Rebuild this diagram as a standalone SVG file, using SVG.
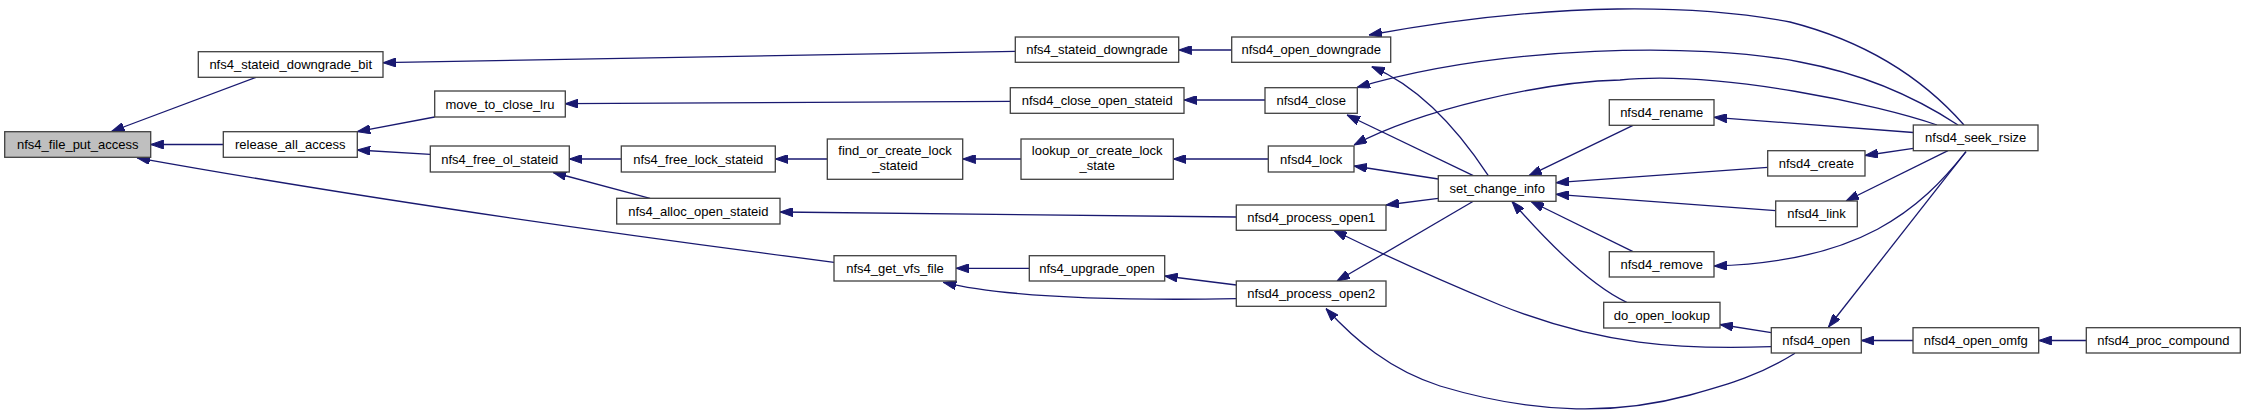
<svg xmlns="http://www.w3.org/2000/svg" width="2245" height="415" viewBox="0 0 2245 415">
<style>
.n rect{fill:#ffffff;stroke:#404040;stroke-width:1.3}
.n.main rect{fill:#bfbfbf}
.n text{font-family:"Liberation Sans",Arial,Helvetica,sans-serif;font-size:13px;fill:#000;text-anchor:middle}
.e path{fill:none;stroke:#191970;stroke-width:1.3;marker-end:url(#ah)}
</style>
<defs>
<marker id="ah" markerUnits="userSpaceOnUse" viewBox="0 0 13 9" refX="13" refY="4.5" markerWidth="13" markerHeight="9" orient="auto">
<path d="M0,0 L13,4.5 L0,9 z" fill="#191970" stroke="#191970" stroke-width="1"/>
</marker>
</defs>
<rect width="2245" height="415" fill="#ffffff"/>
<g id="edges" class="e">
<path d="M256,77.3 L111.5,131.5"/>
<path d="M223.3,144.5 L150.7,144.5"/>
<path d="M834,262.3 C700,245 400,205 137,157.8"/>
<path d="M1015.3,51.3 L383,62.7"/>
<path d="M434.7,117 L357.3,131.7"/>
<path d="M430.3,154.3 L357.3,150"/>
<path d="M1010.3,101.3 L565.3,103.7"/>
<path d="M621.3,159 L569.3,159"/>
<path d="M650,198.3 L553.3,172.5"/>
<path d="M827.3,159 L775.3,159"/>
<path d="M1021,159 L962.7,159"/>
<path d="M1268.3,159 L1173.3,159"/>
<path d="M1236.3,217 L780,212"/>
<path d="M1029.3,268.3 L956,268.3"/>
<path d="M1236.3,298.7 C1100,301 1000,296 943.3,282.3"/>
<path d="M1236.3,285 L1164.7,276"/>
<path d="M1231.7,50 L1178.7,50"/>
<path d="M1265,100 L1184,100"/>
<path d="M1488.3,175.7 C1455,125 1415,85 1371.7,66.7"/>
<path d="M1473.3,175.7 L1347,115"/>
<path d="M1438.3,179 L1354,166"/>
<path d="M1438.3,198.3 L1386,205"/>
<path d="M1473.3,201.3 L1337,281"/>
<path d="M1964,125 C1920,75 1860,40 1790,22 C1700,5 1560,0 1369,35"/>
<path d="M1958,125 C1920,100 1870,75 1800,62 C1700,42 1500,45 1357,87.5"/>
<path d="M1937,125 C1880,105 1720,70 1620,80 C1540,82 1420,110 1354,145"/>
<path d="M1913.3,132.5 L1714,117.3"/>
<path d="M1913.3,148.3 L1865,155.5"/>
<path d="M1948,150.7 L1846,201"/>
<path d="M1966,151.7 C1920,210 1860,262 1714,266"/>
<path d="M1966,151.7 L1828.5,327"/>
<path d="M1633,125.3 L1529,175.7"/>
<path d="M1767.7,167.3 L1556,182.7"/>
<path d="M1775.7,210.7 L1556,194.3"/>
<path d="M1633,251.7 L1531,201.5"/>
<path d="M1626.7,302.3 C1590,285 1550,245 1512,201.5"/>
<path d="M1771.3,332.7 L1720,324.5"/>
<path d="M1771.3,346.7 C1680,350 1600,345 1500,305 C1420,272 1380,253 1334,230.5"/>
<path d="M1795,353.3 C1760,375 1730,384 1690,395 C1620,414 1540,416 1440,386 C1390,370 1355,340 1326,308.5"/>
<path d="M1913,340.5 L1861.3,340.5"/>
<path d="M2086.3,340.5 L2038.7,340.5"/>
</g>
<g id="n1" class="n main"><rect x="4.7" y="131.7" width="146" height="25.6"/><text x="77.7" y="149">nfs4_file_put_access</text></g>
<g id="n2" class="n"><rect x="198.3" y="51.7" width="184.7" height="25.6"/><text x="290.7" y="69">nfs4_stateid_downgrade_bit</text></g>
<g id="n3" class="n"><rect x="223.3" y="131.7" width="134" height="25.6"/><text x="290.3" y="149">release_all_access</text></g>
<g id="n4" class="n"><rect x="434.7" y="91" width="130.6" height="26"/><text x="500" y="108.5">move_to_close_lru</text></g>
<g id="n5" class="n"><rect x="430.3" y="146" width="139" height="26"/><text x="499.8" y="163.5">nfs4_free_ol_stateid</text></g>
<g id="n6" class="n"><rect x="621.3" y="146" width="154" height="26"/><text x="698.3" y="163.5">nfs4_free_lock_stateid</text></g>
<g id="n7" class="n"><rect x="827.3" y="139" width="135.4" height="40.3"/><text x="895" y="155">find_or_create_lock</text><text x="895" y="170">_stateid</text></g>
<g id="n8" class="n"><rect x="616.7" y="198.3" width="163.3" height="25.7"/><text x="698.3" y="215.7">nfs4_alloc_open_stateid</text></g>
<g id="n9" class="n"><rect x="834" y="255.7" width="122" height="25.3"/><text x="895" y="272.8">nfs4_get_vfs_file</text></g>
<g id="n10" class="n"><rect x="1015.3" y="37" width="163.4" height="25.3"/><text x="1097" y="54.2">nfs4_stateid_downgrade</text></g>
<g id="n11" class="n"><rect x="1010.3" y="87.7" width="173.7" height="25.6"/><text x="1097.2" y="105">nfsd4_close_open_stateid</text></g>
<g id="n12" class="n"><rect x="1021" y="139" width="152.3" height="40.3"/><text x="1097.2" y="155">lookup_or_create_lock</text><text x="1097.2" y="170">_state</text></g>
<g id="n13" class="n"><rect x="1029.3" y="255.7" width="135.4" height="25.3"/><text x="1097" y="272.8">nfs4_upgrade_open</text></g>
<g id="n14" class="n"><rect x="1231.7" y="37" width="159" height="25.3"/><text x="1311.2" y="54.2">nfsd4_open_downgrade</text></g>
<g id="n15" class="n"><rect x="1265" y="87.7" width="92.3" height="25.6"/><text x="1311.2" y="105">nfsd4_close</text></g>
<g id="n16" class="n"><rect x="1268.3" y="146" width="85.7" height="26"/><text x="1311.2" y="163.5">nfsd4_lock</text></g>
<g id="n17" class="n"><rect x="1236.3" y="205" width="149.7" height="25.3"/><text x="1311.2" y="222.2">nfsd4_process_open1</text></g>
<g id="n18" class="n"><rect x="1236.3" y="281" width="149.7" height="25.3"/><text x="1311.2" y="298.2">nfsd4_process_open2</text></g>
<g id="n19" class="n"><rect x="1438.3" y="175.7" width="117.7" height="25.6"/><text x="1497.2" y="193">set_change_info</text></g>
<g id="n20" class="n"><rect x="1609.3" y="99.7" width="104.7" height="25.6"/><text x="1661.7" y="117">nfsd4_rename</text></g>
<g id="n21" class="n"><rect x="1767.7" y="150.7" width="97.3" height="25.3"/><text x="1816.3" y="167.9">nfsd4_create</text></g>
<g id="n22" class="n"><rect x="1775.7" y="201" width="81.6" height="25.7"/><text x="1816.5" y="218.4">nfsd4_link</text></g>
<g id="n23" class="n"><rect x="1609.3" y="251.7" width="104.7" height="25.3"/><text x="1661.7" y="268.9">nfsd4_remove</text></g>
<g id="n24" class="n"><rect x="1603.7" y="302.3" width="116.3" height="25.7"/><text x="1661.8" y="319.7">do_open_lookup</text></g>
<g id="n25" class="n"><rect x="1771.3" y="327.7" width="90" height="25.3"/><text x="1816.3" y="344.9">nfsd4_open</text></g>
<g id="n26" class="n"><rect x="1913.3" y="125" width="124.7" height="25.7"/><text x="1975.7" y="142.4">nfsd4_seek_rsize</text></g>
<g id="n27" class="n"><rect x="1913" y="327.7" width="125.7" height="25.3"/><text x="1975.8" y="344.9">nfsd4_open_omfg</text></g>
<g id="n28" class="n"><rect x="2086.3" y="327.7" width="154" height="25.3"/><text x="2163.3" y="344.9">nfsd4_proc_compound</text></g>
</svg>
